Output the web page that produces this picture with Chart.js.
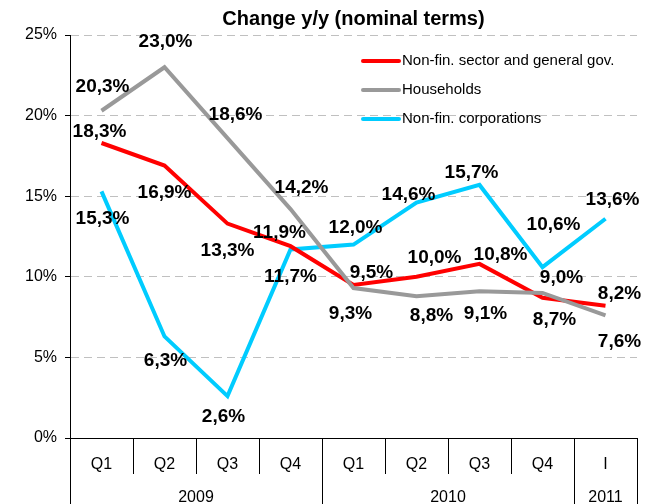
<!DOCTYPE html>
<html lang="en">
<head>
<meta charset="UTF-8">
<title>Change y/y</title>
<script src="https://cdn.jsdelivr.net/npm/chart.js"></script>
<style>
  html, body { margin: 0; padding: 0; background: #fff; }
  #wrap { width: 654px; height: 504px; }
</style>
</head>
<body>
<div id="wrap"><canvas id="myChart" width="654" height="504"></canvas></div>
<script>
// data
var quarters = ['Q1', 'Q2', 'Q3', 'Q4', 'Q1', 'Q2', 'Q3', 'Q4', 'I'];
var years = ['2009', '2010', '2011'];
var yearSpans = [4, 4, 1];
var seriesNames = ['Non-fin. sector and general gov.', 'Households', 'Non-fin. corporations'];
var nonFinGov = [18.3, 16.9, 13.3, 11.9, 9.5, 10.0, 10.8, 8.7, 8.2];
var households = [20.3, 23.0, 18.6, 14.2, 9.3, 8.8, 9.1, 9.0, 7.6];
var corporations = [15.3, 6.3, 2.6, 11.7, 12.0, 14.6, 15.7, 10.6, 13.6];
var yTicks = [0, 5, 10, 15, 20, 25];

// where each value label sits relative to its point (px)
var labelOffsets = [
    [[-2, -11], [0, 27], [0, 27], [-11, -13], [18, -12], [18, -19], [21, -9], [12, 22], [14, -12]],
    [[1, -24], [1, -25], [8, -23], [11, -21], [-3, 26], [15, 20], [6, 22], [19, -15], [14, 26]],
    [[1, 27], [1, 24], [-4, 21], [0, 27], [2, -17], [-8, -8], [-8, -12], [11, -42], [7, -19]]
];

var FONT = '"Liberation Sans", Arial, sans-serif';
Chart.defaults.font.family = FONT;
Chart.defaults.color = '#000';

function pct(v) {
    return v.toFixed(1).replace('.', ',') + '%';
}

var valueLabels = {
    id: 'valueLabels',
    afterDatasetsDraw: function (chart) {
        var ctx = chart.ctx;
        ctx.save();
        ctx.font = 'bold 19px ' + FONT;
        ctx.fillStyle = '#000';
        ctx.textAlign = 'center';
        ctx.textBaseline = 'middle';
        chart.data.datasets.forEach(function (ds, i) {
            chart.getDatasetMeta(i).data.forEach(function (pt, j) {
                var off = labelOffsets[i][j];
                ctx.fillText(pct(ds.data[j]), pt.x + off[0], pt.y + off[1]);
            });
        });
        ctx.restore();
    }
};

// year row under the quarter labels
var yearAxis = {
    id: 'yearAxis',
    afterDraw: function (chart) {
        var x = chart.scales.x;
        var ctx = chart.ctx;
        var step = x.getPixelForValue(1) - x.getPixelForValue(0);
        var top = x.top;
        var bottom = chart.height;
        ctx.save();
        ctx.strokeStyle = '#000';
        ctx.lineWidth = 1;
        ctx.fillStyle = '#000';
        ctx.font = '16px ' + FONT;
        ctx.textAlign = 'center';
        ctx.textBaseline = 'middle';
        var start = 0;
        years.forEach(function (y, k) {
            var left = x.getPixelForValue(start) - step / 2;
            var right = x.getPixelForValue(start + yearSpans[k] - 1) + step / 2;
            ctx.beginPath();
            ctx.moveTo(Math.round(left) + 0.5, top);
            ctx.lineTo(Math.round(left) + 0.5, bottom);
            ctx.moveTo(Math.round(right) + 0.5, top);
            ctx.lineTo(Math.round(right) + 0.5, bottom);
            ctx.stroke();
            ctx.fillText(y, (left + right) / 2, 498);
            start += yearSpans[k];
        });
        ctx.restore();
    }
};

var boxLegend = {
    id: 'boxLegend',
    afterDraw: function (chart) {
        var ctx = chart.ctx;
        ctx.save();
        ctx.font = '15px ' + FONT;
        ctx.textBaseline = 'middle';
        ctx.lineCap = 'round';
        chart.data.datasets.forEach(function (ds, i) {
            var y = 61 + i * 29;
            ctx.strokeStyle = ds.borderColor;
            ctx.lineWidth = 4;
            ctx.beginPath();
            ctx.moveTo(363, y);
            ctx.lineTo(399, y);
            ctx.stroke();
            ctx.fillStyle = '#000';
            ctx.fillText(ds.label, 402, y);
        });
        ctx.restore();
    }
};

var ctx = document.getElementById('myChart').getContext('2d');

var myChart = new Chart(ctx, {
    type: 'line',
    data: {
        labels: quarters,
        datasets: [{
            label: seriesNames[0],
            data: nonFinGov,
            borderColor: '#ff0000',
            backgroundColor: '#ff0000',
            borderWidth: 4,
            pointRadius: 0,
            tension: 0,
            order: 2
        }, {
            label: seriesNames[1],
            data: households,
            borderColor: '#999999',
            backgroundColor: '#999999',
            borderWidth: 4,
            pointRadius: 0,
            tension: 0,
            order: 1
        }, {
            label: seriesNames[2],
            data: corporations,
            borderColor: '#00ccff',
            backgroundColor: '#00ccff',
            borderWidth: 4,
            pointRadius: 0,
            tension: 0,
            order: 3
        }]
    },
    options: {
        responsive: false,
        animation: false,
        layout: { padding: { left: 0, right: 17, top: 0, bottom: 0 } },
        plugins: {
            legend: { display: false },
            tooltip: { enabled: false },
            title: {
                display: true,
                fullSize: false,
                text: 'Change y/y (nominal terms)',
                color: '#000',
                font: { size: 20, weight: 'bold' },
                padding: { top: 7, bottom: 4 }
            }
        },
        scales: {
            x: {
                offset: true,
                grid: {
                    offset: true,
                    drawOnChartArea: false,
                    tickLength: 36,
                    color: '#000',
                    tickColor: '#000'
                },
                border: { display: true, color: '#000', width: 1 },
                ticks: {
                    color: '#000',
                    font: { size: 16 },
                    padding: -19,
                    maxRotation: 0,
                    autoSkip: false
                },
                afterFit: function (s) { s.height = 66; }
            },
            y: {
                min: 0,
                max: 25,
                afterBuildTicks: function (s) {
                    s.ticks = yTicks.map(function (v) { return { value: v }; });
                },
                ticks: {
                    color: '#000',
                    font: { size: 16 },
                    padding: 8,
                    callback: function (v) { return v + '%'; }
                },
                grid: {
                    color: function (c) { return c.tick && c.tick.value === 0 ? 'rgba(0,0,0,0)' : '#c0c0c0'; },
                    tickColor: '#000',
                    tickLength: 5
                },
                border: { display: true, color: '#000', width: 1, dash: [8, 5] },
                afterFit: function (s) { s.width = 70; }
            }
        }
    },
    plugins: [valueLabels, yearAxis, boxLegend]
});
</script>
</body>
</html>
